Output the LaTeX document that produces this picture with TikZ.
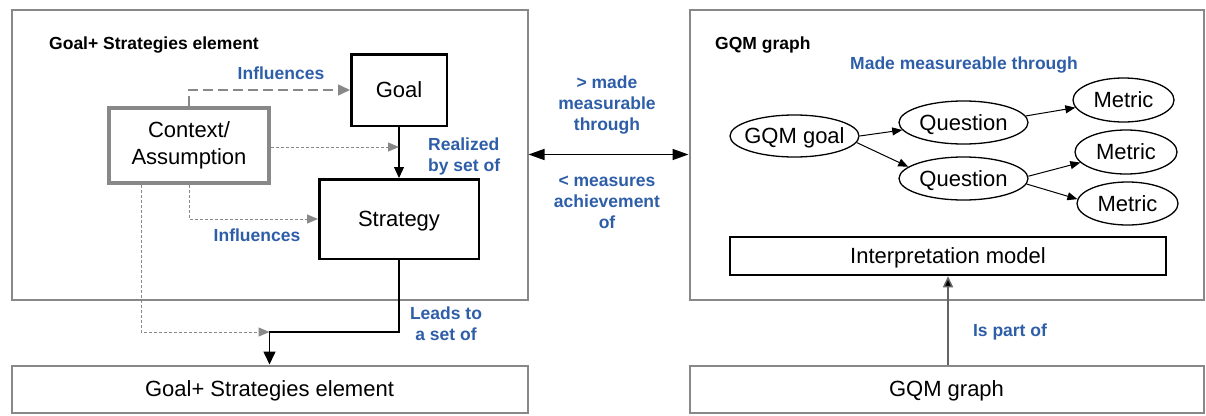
\documentclass[tikz,border=0pt]{standalone}
\usepackage{fontspec}
\setmainfont{Liberation Sans}
\usetikzlibrary{arrows.meta,shapes.geometric}
\definecolor{lblue}{RGB}{46,94,168}
\definecolor{frame}{RGB}{136,136,136}
\definecolor{partline}{RGB}{100,100,100}

\begin{document}
\begin{tikzpicture}[x=1pt,y=-1pt,
  big/.style={font=\fontsize{22}{27}\selectfont, text height=15.8pt, text depth=0pt},
  title/.style={font=\fontsize{17.5}{21}\selectfont\bfseries, inner sep=0pt},
  lab/.style={font=\fontsize{17.5}{21}\selectfont\bfseries, text=lblue, inner sep=0pt},
  panel/.style={draw=frame, line width=2pt, rectangle, inner sep=0pt},
  blk/.style={draw=black, line width=2.5pt, rectangle, inner sep=0pt, big},
  ell/.style={draw=black, ellipse, line width=1.3pt, inner xsep=-8pt, inner ysep=0pt, big},
  smalltip/.style={line width=1pt, -{Triangle[length=10pt,width=8pt]}},
  longdash/.style={draw=frame, line width=1.5pt, dash pattern=on 10pt off 5pt,
    -{Triangle[length=12pt,width=11pt,fill=frame]}},
  shortdash/.style={draw=frame, line width=1pt, dash pattern=on 3pt off 2pt,
    -{Triangle[length=11pt,width=9pt,fill=frame]}}
]
\useasboundingbox (0,0) rectangle (1206,415);

% outer panels and the two summary boxes below them
\node[panel, minimum width=516pt, minimum height=290pt] (lp) at (269.5,154.5) {};
\node[panel, minimum width=514pt, minimum height=290pt] (rp) at (946.5,154.5) {};
\node[panel, big, minimum width=516pt, minimum height=47pt] (lb) at (269.5,389) {Goal+ Strategies element};
\node[panel, big, minimum width=514pt, minimum height=47pt] (rb) at (946.5,389) {GQM graph};

% panel titles
\node[title, anchor=base west] (lt) at (49,49) {Goal+ Strategies element};
\node[title, anchor=base west] (rt) at (715,49) {GQM graph};

% Goal+ Strategies element
\node[blk, minimum width=95.5pt, minimum height=71.5pt] (goal) at (399,90) {Goal};
\node[blk, minimum width=159.5pt, minimum height=79.5pt] (strat) at (399,219) {Strategy};
\node[draw=frame, line width=4pt, minimum width=160pt, minimum height=75pt,
      align=center, inner sep=0pt, font=\fontsize{22}{27}\selectfont] (ctx) at (189,145.5) {Context/\\Assumption};

\coordinate (gs) at (399,147);
\coordinate (join) at (269.5,332);

\draw[line width=1.2pt, -{Triangle[length=11pt,width=10pt]}] (goal) -- (strat);
\draw[longdash] (ctx.north) |- (goal.west);
\draw[shortdash] ([yshift=-1.5pt]ctx.east) -- (gs);
\draw[shortdash] (ctx.south) |- (strat.west);
\draw[shortdash] ([xshift=-48pt]ctx.south) |- (join);
\draw[line width=1.5pt, -{Triangle[length=13pt,width=12pt]}] (strat.south) |- (join) -- (lb.north);

\node[lab] (inf1) at (281,73) {Influences};
\node[lab] (inf2) at (257,235) {Influences};
\node[lab, align=left, anchor=west] (real) at (428,156) {Realized\\by set of};
\node[lab, align=center] (leads) at (446,323.5) {Leads to\\a set of};

% link between the two panels
\draw[line width=1.5pt, {Triangle[length=16pt,width=11pt]}-{Triangle[length=16pt,width=11pt]}] (lp.east) -- (rp.west);
\node[lab, align=center] (made) at (607,105.5) {> made\\measurable\\through};
\node[lab, align=center] (meas) at (607,202) {< measures\\achievement\\of};

% GQM graph
\node[lab] (mmt) at (964,65) {Made measureable through};
\node[ell, minimum width=129pt, minimum height=42pt] (gqm) at (794.5,136) {GQM goal};
\node[ell, minimum width=129pt, minimum height=43pt] (q1) at (963.5,122.5) {Question};
\node[ell, minimum width=129pt, minimum height=43pt] (q2) at (963.5,178.5) {Question};
\node[ell, minimum width=101pt, minimum height=44pt] (m1) at (1123.5,100) {Metric};
\node[ell, minimum width=102pt, minimum height=44pt] (m2) at (1126,152) {Metric};
\node[ell, minimum width=101pt, minimum height=43pt] (m3) at (1127.5,203.5) {Metric};

\draw[smalltip] (gqm.0) -- (q1.187);
\draw[smalltip] (gqm.-6) -- (q2.168);
\draw[smalltip] (q1.6) -- (m1.189);
\draw[smalltip] (q2.2) -- (m2.193);
\draw[smalltip] (q2.-5) -- (m3.175);

\node[blk, minimum width=436pt, minimum height=38pt] (interp) at (948,256) {Interpretation model};
\draw[draw=partline, line width=1.5pt, -{Triangle[length=11pt,width=10pt,fill=black]}] (rb.north -| interp.south) -- (interp.south);
\node[lab] (part) at (1010,332) {Is part of};
\end{tikzpicture}
\end{document}
